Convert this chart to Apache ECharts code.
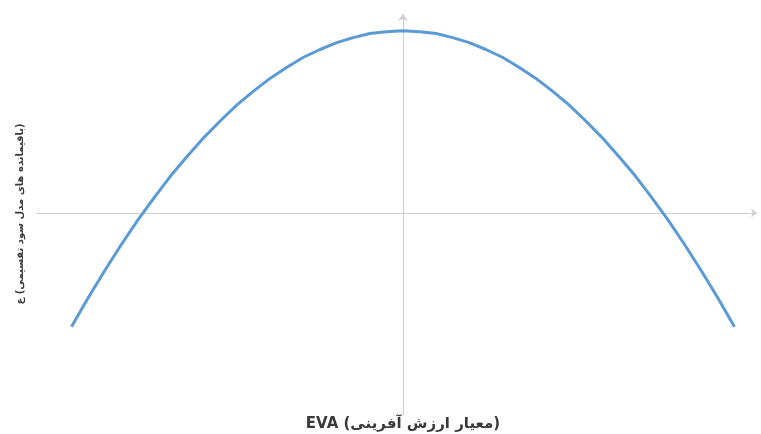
<!DOCTYPE html>
<html>
<head>
<meta charset="utf-8">
<script src="https://cdn.jsdelivr.net/npm/echarts@6/dist/echarts.min.js"></script>
<style>
  html, body { margin: 0; padding: 0; background: #fff; }
  #main { width: 761px; height: 434px; }
</style>
</head>
<body>
<div id="main"></div>
<script>
// نقاط منحنی (خوانده شده از تصویر)
const xValues = [-5, -4.75, -4.5, -4.25, -4, -3.75, -3.5, -3.25, -3, -2.75, -2.5, -2.25, -2, -1.75, -1.5, -1.25, -1, -0.75, -0.5, -0.25, 0,
  0.25, 0.5, 0.75, 1, 1.25, 1.5, 1.75, 2, 2.25, 2.5, 2.75, 3, 3.25, 3.5, 3.75, 4, 4.25, 4.5, 4.75, 5];
const yValues = [-2.5, -1.87, -1.27, -0.7, -0.16, 0.34, 0.82, 1.25, 1.66, 2.03, 2.38, 2.68, 2.96, 3.2, 3.42, 3.59, 3.74, 3.85, 3.94, 3.98, 4,
  3.98, 3.94, 3.85, 3.74, 3.59, 3.42, 3.2, 2.96, 2.68, 2.38, 2.03, 1.66, 1.25, 0.82, 0.34, -0.16, -0.7, -1.27, -1.87, -2.5];

// عنوان محورها
const xName = "EVA (معیار ارزش آفرینی)";
const yName = "\u200F(باقیمانده های مدل سود تقسیمی) ع";

const points = xValues.map((x, i) => [x, yValues[i]]);

const myChart = echarts.init(document.getElementById("main"));
const option = {
  animation: false,
  grid: { left: 37, right: 4, top: 14, bottom: 19 },
  xAxis: {
    type: "value",
    min: -5.52,
    max: 5.34,
    axisLine: {
      onZero: true,
      symbol: ["none", "arrow"],
      symbolSize: [7, 6],
      lineStyle: { color: "#d0d0d0", width: 1 },
    },
    axisTick: { show: false },
    axisLabel: { show: false },
    splitLine: { show: false },
  },
  yAxis: {
    type: "value",
    min: -4.44,
    max: 4.37,
    axisLine: {
      onZero: true,
      symbol: ["none", "arrow"],
      symbolSize: [8, 7],
      lineStyle: { color: "#d0d0d0", width: 1 },
    },
    axisTick: { show: false },
    axisLabel: { show: false },
    splitLine: { show: false },
  },
  series: [
    {
      type: "line",
      data: points,
      smooth: false,
      showSymbol: false,
      lineStyle: { color: "#5b9bd5", width: 3 },
    },
  ],
  graphic: [
    {
      type: "text",
      x: 403,
      y: 424,
      style: {
        text: xName,
        font: "bold 15px 'DejaVu Sans', sans-serif",
        fill: "#3a3a3a",
        align: "center",
        verticalAlign: "middle",
      },
    },
    {
      type: "text",
      x: 20,
      y: 214,
      rotation: Math.PI / 2,
      style: {
        text: yName,
        font: "bold 10px 'DejaVu Sans', sans-serif",
        fill: "#3a3a3a",
        align: "center",
        verticalAlign: "middle",
      },
    },
  ],
};
option && myChart.setOption(option);
</script>
</body>
</html>
